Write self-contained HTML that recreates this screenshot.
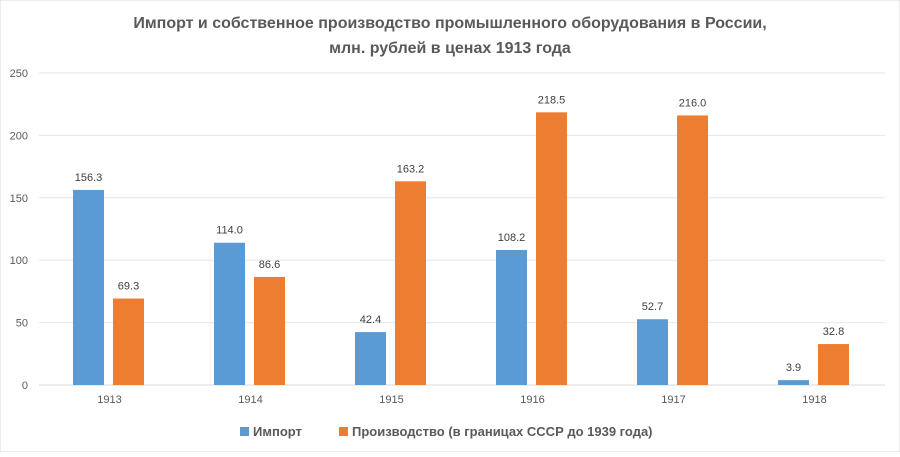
<!DOCTYPE html>
<html><head><meta charset="utf-8"><style>
body{margin:0;background:#fff;font-family:"Liberation Sans","DejaVu Sans",sans-serif}
svg text{font-family:"Liberation Sans","DejaVu Sans",sans-serif}
</style></head><body>
<svg id="chart" width="900" height="452">
<rect width="900" height="452" fill="#fff" stroke="#d9d9d9"/>
<text x="450" y="28" text-anchor="middle" font-size="16" font-weight="bold" fill="#595959">Импорт и собственное производство промышленного оборудования в России,</text>
<text x="450" y="53" text-anchor="middle" font-size="16" font-weight="bold" fill="#595959">млн. рублей в ценах 1913 года</text>
<g id="grid"></g><g id="bars"></g>
<g>
<rect x="240" y="427" width="9" height="9" fill="#5B9BD5"/>
<text x="253" y="436" font-size="13" font-weight="bold" fill="#595959">Импорт</text>
<rect x="339" y="427" width="9" height="9" fill="#ED7D31"/>
<text x="352" y="436" font-size="13" font-weight="bold" fill="#595959">Производство (в границах СССР до 1939 года)</text>
</g>
</svg>
<script>
const categories=["1913","1914","1915","1916","1917","1918"];
const importVals=[156.3,114.0,42.4,108.2,52.7,3.9];
const prodVals=[69.3,86.6,163.2,218.5,216.0,32.8];
const yTicks=[0,50,100,150,200,250];
const NS="http://www.w3.org/2000/svg";
const x0=39,x1=885,y0=385,yTop=73,yMax=250;
const y=v=>y0-(v/yMax)*(y0-yTop);
const bandW=(x1-x0)/categories.length;
const xc=i=>x0+bandW*(i+0.5)-1;
function mk(tag,attrs,parent,txt){const e=document.createElementNS(NS,tag);for(const k in attrs)e.setAttribute(k,attrs[k]);if(txt!==undefined)e.textContent=txt;parent.appendChild(e);return e;}
const grid=document.getElementById('grid'),bars=document.getElementById('bars');
yTicks.forEach(t=>{
 const l=mk('line',{x1:x0,x2:x1,y1:y(t),y2:y(t),stroke:t===0?'#d9d9d9':'#e6e6e6','stroke-width':1},grid);
 
 
 const tx=mk('text',{x:28,y:y(t)+4,'text-anchor':'end','font-size':11,fill:'#595959'},grid,String(t));
 
 
});
const bw=31,gap=9;
categories.forEach((c,i)=>{
 const cx=xc(i);
 [[importVals[i],'#5B9BD5',cx-gap/2-bw,'import'],[prodVals[i],'#ED7D31',cx+gap/2,'production']].forEach(([v,col,bx,nm])=>{
  const r=mk('rect',{x:bx,y:y(v),width:bw,height:y0-y(v),fill:col},bars);
  
  
  const t=mk('text',{x:bx+bw/2,y:y(v)-9,'text-anchor':'middle','font-size':11,fill:'#404040'},bars,v.toFixed(1));
  
  
 });
 const xl=mk('text',{x:cx+1,y:y0+18,'text-anchor':'middle','font-size':11,fill:'#595959'},bars,c);
 
 
});
</script>
</body></html>
